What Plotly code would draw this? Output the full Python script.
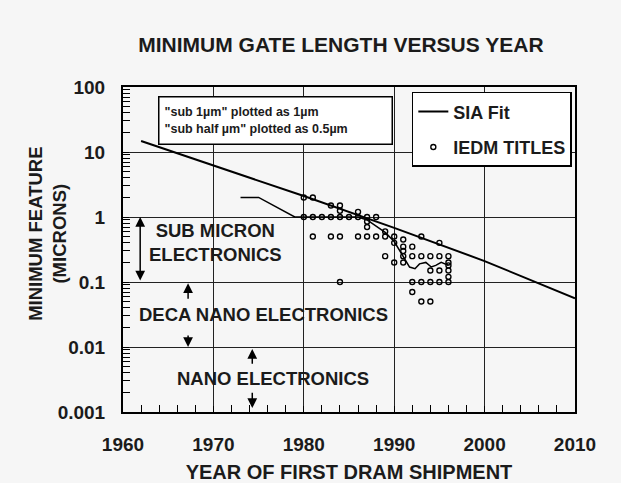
import math
import plotly.graph_objects as go

# ---- data ----
sia_years = [1962, 1980, 1990, 2000, 2010]
sia_values = [14.8, 2.1, 0.68, 0.21, 0.056]

iedm_years = [
    1980, 1980,
    1981, 1981, 1981,
    1982,
    1983, 1983, 1983,
    1984, 1984, 1984, 1984, 1984,
    1985,
    1986, 1986, 1986,
    1987, 1987, 1987, 1987,
    1988, 1988,
    1989, 1989, 1989,
    1990, 1990, 1990,
    1991, 1991, 1991, 1991, 1991,
    1992, 1992, 1992, 1992,
    1993, 1993, 1993, 1993,
    1994, 1994, 1994, 1994,
    1995, 1995, 1995, 1995,
    1996, 1996, 1996, 1996, 1996, 1996,
]
iedm_values = [
    2.0, 1.0,
    2.0, 1.0, 0.5,
    1.0,
    1.5, 1.0, 0.5,
    1.5, 1.25, 1.0, 0.5, 0.1,
    1.0,
    1.2, 1.0, 0.5,
    1.0, 0.85, 0.7, 0.5,
    1.0, 0.5,
    0.6, 0.5, 0.25,
    0.5, 0.4, 0.2,
    0.45, 0.35, 0.3, 0.25, 0.2,
    0.35, 0.25, 0.1, 0.07,
    0.5, 0.25, 0.1, 0.05,
    0.25, 0.15, 0.1, 0.05,
    0.4, 0.25, 0.15, 0.1,
    0.25, 0.2, 0.18, 0.15, 0.12, 0.1,
]

trend_years = [1973, 1975, 1979, 1986, 1987, 1988, 1989, 1990, 1991, 1991.7, 1992.3, 1992.8, 1993.5, 1994.1, 1994.6, 1995.2, 1996]
trend_values = [2.0, 2.0, 1.0, 1.0, 0.9, 0.72, 0.58, 0.42, 0.25, 0.17, 0.16, 0.19, 0.2, 0.17, 0.18, 0.2, 0.18]

FONT = "Liberation Sans, Arial, Helvetica, sans-serif"
INK = "#1b1b1b"
BG = "#f6f6f6"

fig = go.Figure()
fig.add_trace(go.Scatter(
    x=sia_years, y=sia_values, mode="lines", name="SIA Fit",
    line=dict(color="black", width=2), legendgroup="a",
))
fig.add_trace(go.Scatter(
    x=iedm_years, y=iedm_values, mode="markers", name="IEDM TITLES",
    marker=dict(symbol="circle-open", size=5, color="black", line=dict(width=1.4, color="black")),
    legendgroup="b",
))
fig.add_trace(go.Scatter(
    x=trend_years, y=trend_values, mode="lines", showlegend=False,
    line=dict(color="black", width=1.5),
))

L10 = math.log10
annotations = []

annotations.append(dict(
    xref="paper", yref="paper", x=0.338, y=0.898, xanchor="center", yanchor="middle",
    text='"sub 1µm" plotted as 1µm<br>"sub half µm" plotted as 0.5µm',
    align="left", showarrow=False, bgcolor="white", bordercolor="black", borderwidth=1.5,
    borderpad=5, width=222, height=36,
    font=dict(family=FONT, size=12.5, color=INK, weight="bold"),
))

def label(text, x, y):
    annotations.append(dict(
        xref="x", yref="y", x=x, y=y, text=text, showarrow=False,
        font=dict(family=FONT, size=18.5, color=INK, weight="bold"), align="center",
    ))

label("SUB MICRON<br>ELECTRONICS", 1970.2, L10(0.4))
label("DECA NANO ELECTRONICS", 1975.5, -1.5)
label("NANO ELECTRONICS", 1976.6, -2.48)

def arrow(x, y_tip, y_tail, side="end"):
    annotations.append(dict(
        xref="x", yref="y", axref="x", ayref="y",
        x=x, y=y_tip, ax=x, ay=y_tail, text="", showarrow=True,
        arrowhead=2, arrowsize=1.3, arrowwidth=1.5, arrowcolor="black", arrowside=side,
        standoff=0, startstandoff=0,
    ))

arrow(1961.9, 0.0, -1.0, side="end+start")
arrow(1967.2, -1.02, -1.28)
arrow(1967.2, -2.0, -1.8)
arrow(1974.3, -2.03, -2.28)
arrow(1974.3, -2.94, -2.68)

annotations.append(dict(
    xref="paper", yref="paper", x=-0.166, y=0.548, xanchor="center", yanchor="middle",
    text="MINIMUM FEATURE<br>(MICRONS)", textangle=-90, showarrow=False,
    font=dict(family=FONT, size=18.5, color=INK, weight="bold"),
))

fig.update_layout(
    template="none",
    width=621, height=483,
    margin=dict(l=123, r=46, t=87, b=71),
    paper_bgcolor=BG, plot_bgcolor=BG,
    title=dict(
        text="MINIMUM GATE LENGTH VERSUS YEAR", x=0.549, y=0.907, xref="container", yref="container",
        xanchor="center", yanchor="middle",
        font=dict(family=FONT, size=21, color=INK, weight="bold"),
    ),
    showlegend=True,
    legend=dict(
        x=0.639, y=0.985, xanchor="left", yanchor="top",
        bgcolor="white", bordercolor="black", borderwidth=1.5,
        font=dict(family=FONT, size=18, color=INK, weight="bold"),
        itemwidth=30, traceorder="grouped", tracegroupgap=9,
    ),
    annotations=annotations,
)

fig.update_xaxes(
    range=[1960, 2010], tickmode="linear", tick0=1960, dtick=10,
    showgrid=True, gridcolor="#222", gridwidth=1.2, zeroline=False,
    showline=True, linecolor="black", linewidth=2, mirror=True,
    ticks="inside", ticklen=6, tickcolor="black", ticklabelstandoff=14,
    minor=dict(tickmode="linear", tick0=1960, dtick=2, ticks="inside", ticklen=7,
               tickcolor="black", tickwidth=1.3, showgrid=False),
    tickfont=dict(family=FONT, size=19, color=INK, weight="bold"),
    title=dict(text="YEAR OF FIRST DRAM SHIPMENT", standoff=15,
               font=dict(family=FONT, size=20, color=INK, weight="bold")),
    automargin=False,
)
fig.update_yaxes(
    type="log", range=[-3, 2], tickmode="linear", tick0=0, dtick=1,
    exponentformat="none",
    showgrid=True, gridcolor="#222", gridwidth=1.2, zeroline=False,
    showline=True, linecolor="black", linewidth=2, mirror=True,
    ticks="inside", ticklen=6, tickcolor="black", ticklabelstandoff=12,
    minor=dict(dtick="D1", ticks="inside", ticklen=7,
               tickcolor="black", tickwidth=1.3, showgrid=False),
    tickfont=dict(family=FONT, size=19, color=INK, weight="bold"),
    automargin=False,
)

fig.write_html(
    "out.html",
    config={"displayModeBar": False},
    post_script="document.body.style.margin='0';document.body.style.overflow='hidden';",
)
